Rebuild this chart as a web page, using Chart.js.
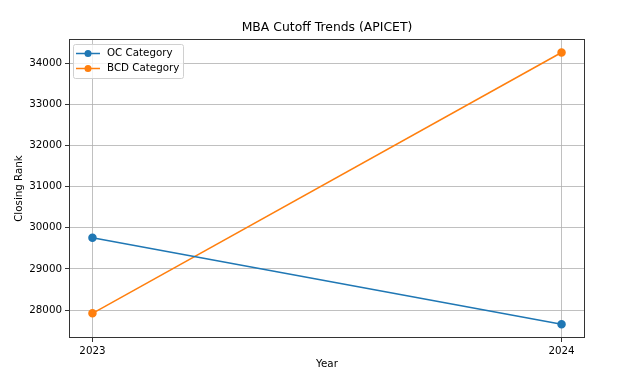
<!DOCTYPE html>
<html><head><meta charset="utf-8">
<script src="https://cdn.jsdelivr.net/npm/chart.js@4"></script>
<style>html,body{margin:0;padding:0;background:#fff}#wrap{width:631px;height:371px}</style>
</head><body><div id="wrap"><canvas id="c" width="631" height="371"></canvas></div>
<script>
const years = [2023, 2024];
const ocCategory = [29755, 27655];
const bcdCategory = [27920, 34262];
const yTicks = [28000, 29000, 30000, 31000, 32000, 33000, 34000];
const seriesLabels = ['OC Category', 'BCD Category'];
const titleText = 'MBA Cutoff Trends (APICET)';
const xTitle = 'Year';
const yTitle = 'Closing Rank';

const FONT = "'DejaVu Sans', sans-serif";
const colors = ['#1f77b4', '#ff7f0e'];

const framePlugin = {
  id: 'frame',
  afterDraw(chart) {
    const {ctx, chartArea: a} = chart;
    ctx.save();
    ctx.strokeStyle = '#333'; ctx.lineWidth = 1;
    ctx.strokeRect(Math.round(a.left) + 0.5, Math.round(a.top) + 0.5, Math.round(a.right - a.left) - 1, Math.round(a.bottom - a.top) - 1);
    // title
    ctx.fillStyle = '#000';
    ctx.font = '12.4px ' + FONT;
    ctx.textAlign = 'center'; ctx.textBaseline = 'middle';
    ctx.fillText(titleText, (a.left + a.right) / 2, 28);
    ctx.font = '10.3px ' + FONT;
    ctx.fillText(xTitle, (a.left + a.right) / 2, 364);
    ctx.save();
    ctx.translate(19, (a.top + a.bottom) / 2);
    ctx.rotate(-Math.PI / 2);
    ctx.fillText(yTitle, 0, 0);
    ctx.restore();
    // legend
    const lx = 73, ly = 44, lw = 110, lh = 34;
    ctx.fillStyle = 'rgba(255,255,255,0.8)';
    ctx.strokeStyle = '#d0d0d0';
    ctx.beginPath();
    if (ctx.roundRect) ctx.roundRect(lx + 0.5, ly + 0.5, lw, lh, 2); else ctx.rect(lx + 0.5, ly + 0.5, lw, lh);
    ctx.fill(); ctx.stroke();
    chart.data.datasets.forEach((ds, i) => {
      const y = 53.5 + i * 15;
      ctx.strokeStyle = ds.borderColor; ctx.lineWidth = 1.5;
      ctx.beginPath(); ctx.moveTo(76, y); ctx.lineTo(100, y); ctx.stroke();
      ctx.fillStyle = ds.borderColor;
      ctx.beginPath(); ctx.arc(88, y, 3.5, 0, Math.PI * 2); ctx.fill();
      ctx.fillStyle = '#000'; ctx.textAlign = 'left'; ctx.textBaseline = 'middle';
      ctx.font = '10.3px ' + FONT;
      ctx.fillText(ds.label, 107, y);
    });
    ctx.restore();
  }
};

new Chart(document.getElementById('c'), {
  type: 'line',
  data: {
    datasets: [
      {label: seriesLabels[0], data: years.map((x, i) => ({x, y: ocCategory[i]})), borderColor: colors[0], backgroundColor: colors[0], borderWidth: 1.5, pointRadius: 3.5, pointHoverRadius: 3.5, tension: 0},
      {label: seriesLabels[1], data: years.map((x, i) => ({x, y: bcdCategory[i]})), borderColor: colors[1], backgroundColor: colors[1], borderWidth: 1.5, pointRadius: 3.5, pointHoverRadius: 3.5, tension: 0}
    ]
  },
  options: {
    responsive: false, animation: false, devicePixelRatio: 1,
    layout: {padding: {top: 39, right: 46, left: 0, bottom: 0}},
    plugins: {legend: {display: false}, title: {display: false}, tooltip: {enabled: false}},
    scales: {
      x: {
        type: 'linear', min: 2022.95, max: 2024.05,
        afterBuildTicks(s) { s.ticks = years.map(v => ({value: v})); },
        afterFit(s) { s.height = 33; },
        grid: {color: '#b0b0b0', lineWidth: 0.8, tickColor: '#000', tickLength: 4, drawTicks: true},
        border: {display: false},
        ticks: {color: '#000', font: {family: FONT, size: 10.3}, padding: 3, autoSkip: false, maxRotation: 0, callback: v => String(v)}
      },
      y: {
        type: 'linear', min: 27320, max: 34590,
        afterBuildTicks(s) { s.ticks = yTicks.map(v => ({value: v})); },
        afterFit(s) { s.width = 69; },
        grid: {color: '#b0b0b0', lineWidth: 0.8, tickColor: '#000', tickLength: 4, drawTicks: true},
        border: {display: false},
        ticks: {color: '#000', font: {family: FONT, size: 10.3}, padding: 3, autoSkip: false, callback: v => String(v)}
      }
    }
  },
  plugins: [framePlugin]
});
</script></body></html>
